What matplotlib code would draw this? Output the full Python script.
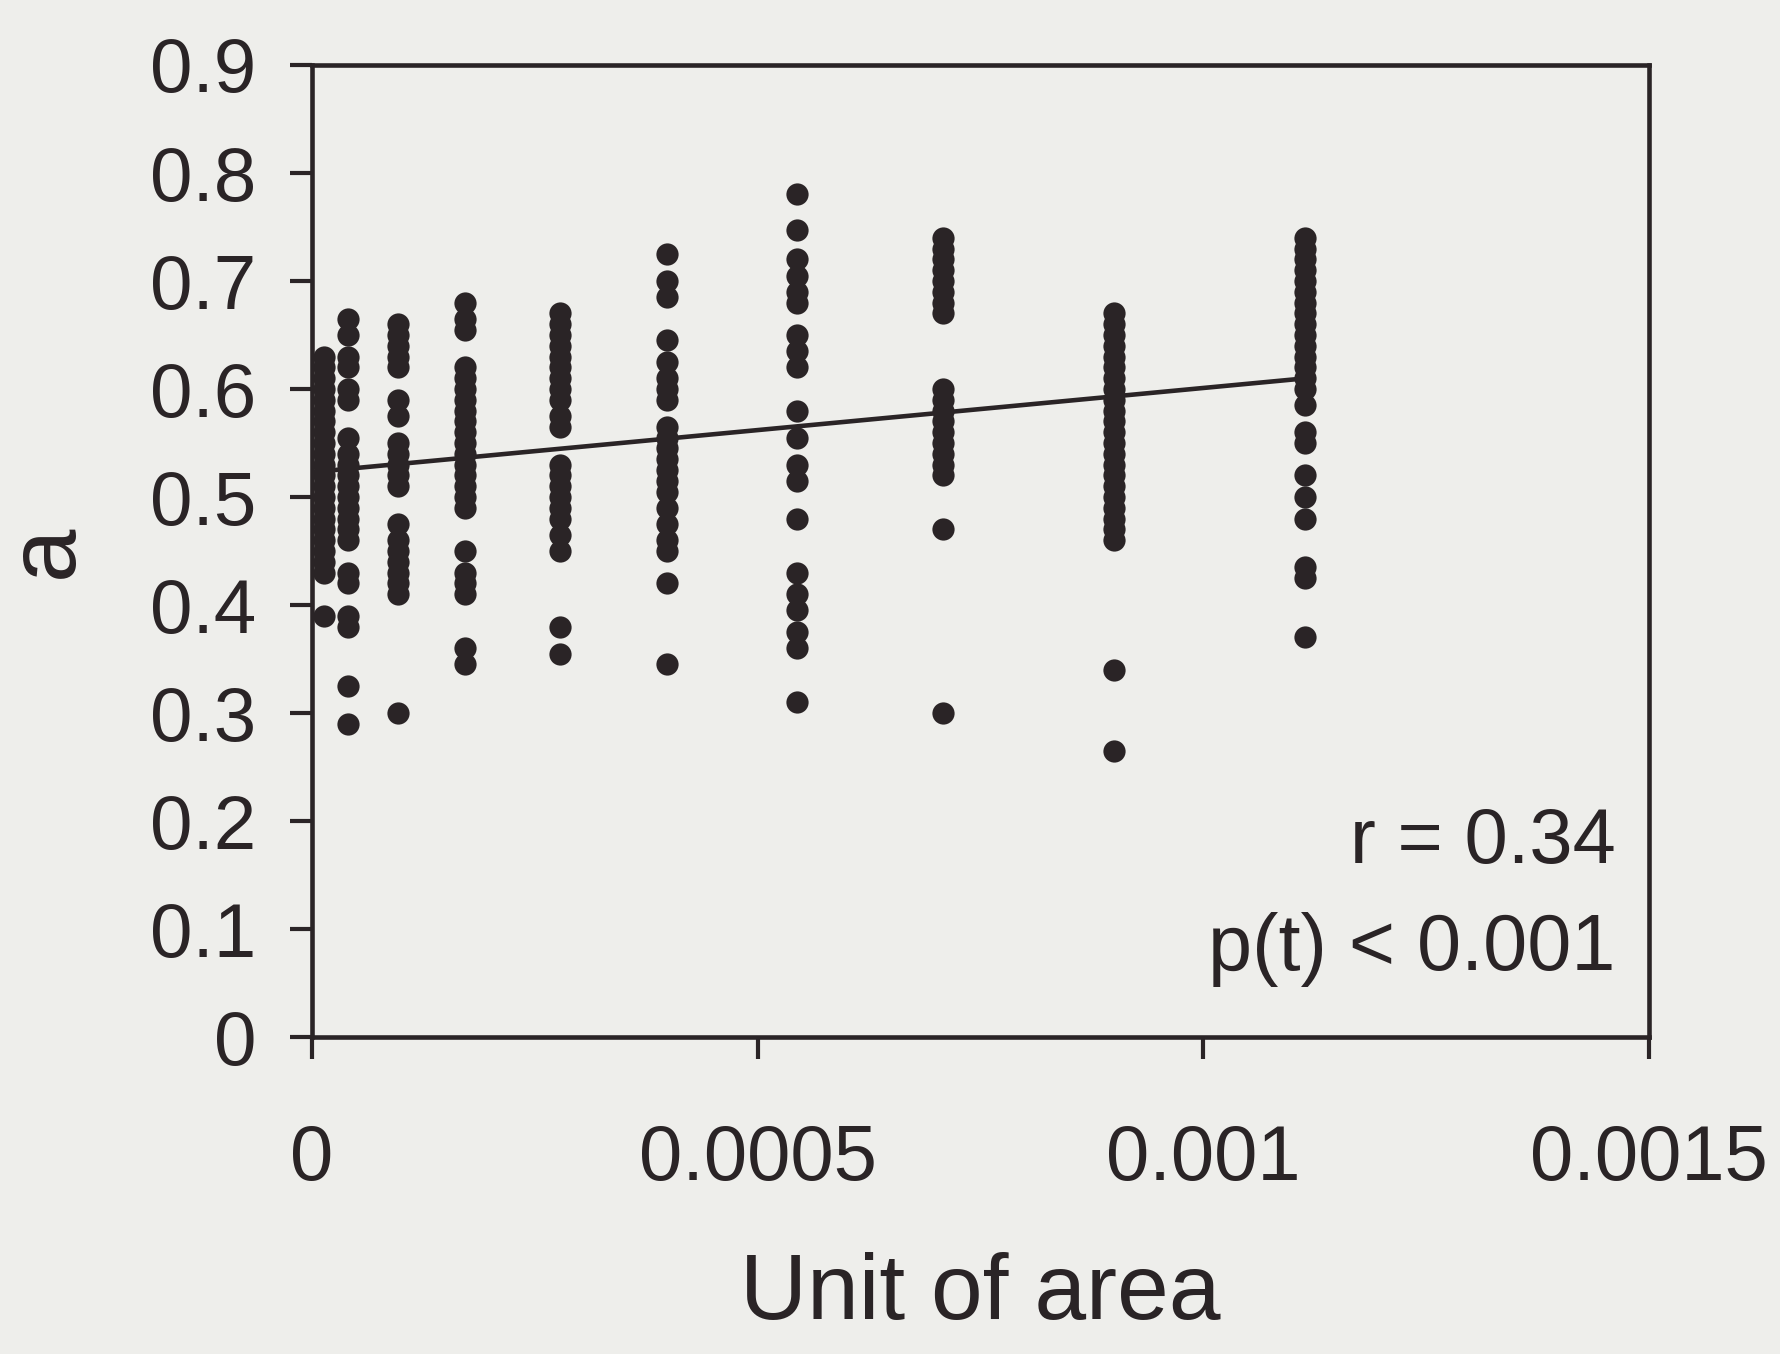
import matplotlib.pyplot as plt
import numpy as np

plt.rcParams['font.family'] = ['Liberation Sans', 'DejaVu Sans']

# x position (unit of area) of each group of samples
area = [0.0000135, 0.0000404, 0.0000965, 0.000172, 0.000278,
        0.000398, 0.000544, 0.000708, 0.000900, 0.001114]

a0 = [0.63, 0.62, 0.61, 0.60, 0.59, 0.58, 0.57, 0.56, 0.55, 0.54, 0.53,
      0.52, 0.51, 0.50, 0.49, 0.48, 0.47, 0.46, 0.45, 0.44, 0.43, 0.39]
a1 = [0.665, 0.65, 0.63, 0.62, 0.60, 0.59, 0.555, 0.54, 0.53, 0.52, 0.51,
      0.50, 0.49, 0.48, 0.47, 0.46, 0.43, 0.42, 0.39, 0.38, 0.325, 0.29]
a2 = [0.66, 0.65, 0.64, 0.63, 0.62, 0.59, 0.575, 0.55, 0.54, 0.53, 0.52,
      0.51, 0.475, 0.46, 0.45, 0.44, 0.43, 0.42, 0.41, 0.30]
a3 = [0.68, 0.665, 0.655, 0.62, 0.61, 0.60, 0.59, 0.58, 0.57, 0.56, 0.55,
      0.54, 0.53, 0.52, 0.51, 0.50, 0.49, 0.45, 0.43, 0.42, 0.41, 0.36, 0.345]
a4 = [0.67, 0.66, 0.65, 0.64, 0.63, 0.62, 0.61, 0.60, 0.59, 0.575, 0.565,
      0.53, 0.52, 0.51, 0.50, 0.49, 0.48, 0.465, 0.45, 0.38, 0.355]
a5 = [0.725, 0.70, 0.685, 0.645, 0.625, 0.61, 0.60, 0.59, 0.565, 0.555,
      0.545, 0.535, 0.525, 0.515, 0.505, 0.49, 0.475, 0.46, 0.45, 0.42, 0.345]
a6 = [0.781, 0.747, 0.72, 0.705, 0.69, 0.68, 0.65, 0.635, 0.62, 0.58, 0.555,
      0.53, 0.515, 0.48, 0.43, 0.41, 0.395, 0.375, 0.36, 0.31]
a7 = [0.74, 0.73, 0.72, 0.71, 0.70, 0.69, 0.68, 0.67, 0.60, 0.59, 0.58,
      0.57, 0.56, 0.55, 0.54, 0.53, 0.52, 0.47, 0.30]
a8 = [0.67, 0.66, 0.65, 0.64, 0.63, 0.62, 0.61, 0.60, 0.59, 0.58, 0.57,
      0.56, 0.55, 0.54, 0.53, 0.52, 0.51, 0.50, 0.49, 0.48, 0.47, 0.46,
      0.34, 0.265]
a9 = [0.74, 0.73, 0.72, 0.71, 0.70, 0.69, 0.68, 0.67, 0.66, 0.65, 0.64,
      0.63, 0.62, 0.61, 0.60, 0.585, 0.56, 0.55, 0.52, 0.50, 0.48, 0.435,
      0.425, 0.37]
groups = [a0, a1, a2, a3, a4, a5, a6, a7, a8, a9]

# regression line
fit_intercept = 0.523
fit_slope = 78.0

xticks = [0, 0.0005, 0.001, 0.0015]
xticklabels = ['0', '0.0005', '0.001', '0.0015']
yticks = [0, 0.1, 0.2, 0.3, 0.4, 0.5, 0.6, 0.7, 0.8, 0.9]
yticklabels = ['0', '0.1', '0.2', '0.3', '0.4', '0.5', '0.6', '0.7', '0.8', '0.9']

bg = '#eeeeeb'
ink = '#2a2426'

fig = plt.figure(figsize=(17.81, 13.54), dpi=100, facecolor=bg)
ax = fig.add_axes([0.175, 0.234, 0.751, 0.718], facecolor=bg)

for x, ys in zip(area, groups):
    ax.plot([x] * len(ys), ys, 'o', color=ink, markersize=16, markeredgewidth=0)

xl = np.array([0, area[-1]])
ax.plot(xl, fit_intercept + fit_slope * xl, color=ink, lw=3.3)

ax.set_xlim(0, 0.0015)
ax.set_ylim(0, 0.9)
ax.set_xticks(xticks)
ax.set_xticklabels(xticklabels)
ax.set_yticks(yticks)
ax.set_yticklabels(yticklabels)
for s in ax.spines.values():
    s.set_linewidth(3.3)
    s.set_color(ink)
ax.tick_params(axis='x', direction='out', length=16, width=3, pad=46,
               labelsize=56, colors=ink)
ax.tick_params(axis='y', direction='out', length=16, width=3, pad=24,
               labelsize=55, colors=ink)

ax.set_xlabel('Unit of area', fontsize=67, color=ink, labelpad=40)
ax.set_ylabel('a', fontsize=69, color=ink, labelpad=42)

ax.text(0.975, 0.2, 'r = 0.34', transform=ax.transAxes, ha='right',
        va='center', fontsize=56, color=ink)
ax.text(0.975, 0.09, 'p(t) < 0.001', transform=ax.transAxes, ha='right',
        va='center', fontsize=57, color=ink)

fig.savefig('out.png', dpi=100, facecolor=bg)
